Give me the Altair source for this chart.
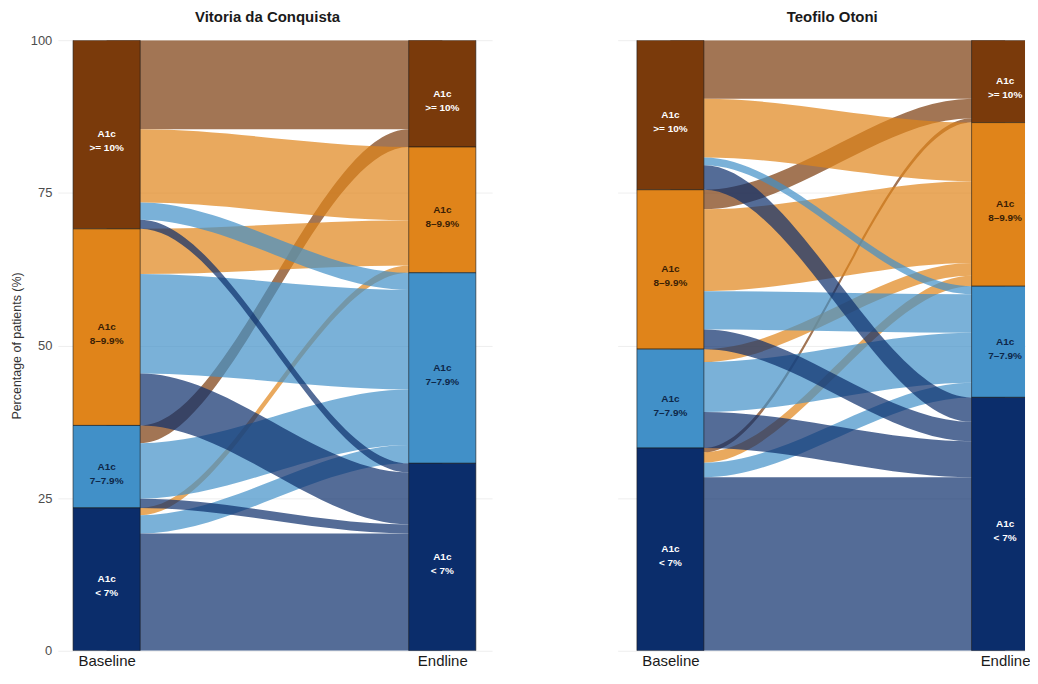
import altair as alt
import pandas as pd

# ---------------- data ----------------
# strata, listed from top of the stack to bottom
strata_keys = ["ge10", "8to9.9", "7to7.9", "lt7"]
strata_labels = ["A1c\n>= 10%", "A1c\n8–9.9%", "A1c\n7–7.9%", "A1c\n< 7%"]
axis_names = ["Baseline", "Endline"]
panel_titles = ["Vitoria da Conquista", "Teofilo Otoni"]

# Vitoria da Conquista: flows baseline stratum -> endline stratum (% of patients)
vdc_from = ["ge10", "ge10", "ge10", "ge10",
            "8to9.9", "8to9.9", "8to9.9",
            "7to7.9", "7to7.9", "7to7.9",
            "lt7", "lt7", "lt7"]
vdc_to = ["ge10", "8to9.9", "7to7.9", "lt7",
          "8to9.9", "7to7.9", "lt7",
          "ge10", "7to7.9", "lt7",
          "8to9.9", "7to7.9", "lt7"]
vdc_pct = [14.6, 12.0, 2.8, 1.5,
           7.4, 16.3, 8.5,
           2.9, 9.1, 1.5,
           1.2, 3.0, 19.2]

# Teofilo Otoni
to_from = ["ge10", "ge10", "ge10", "ge10",
           "8to9.9", "8to9.9", "8to9.9", "8to9.9",
           "7to7.9", "7to7.9", "7to7.9",
           "lt7", "lt7", "lt7", "lt7"]
to_to = ["ge10", "8to9.9", "7to7.9", "lt7",
         "ge10", "8to9.9", "7to7.9", "lt7",
         "8to9.9", "7to7.9", "lt7",
         "ge10", "8to9.9", "7to7.9", "lt7"]
to_pct = [9.6, 9.6, 1.3, 4.0,
          3.2, 13.4, 6.3, 3.2,
          2.1, 8.2, 5.9,
          0.7, 1.7, 2.4, 28.4]

# ---------------- styles ----------------
bar_colors = ["#7A3A0B", "#E0841A", "#4190C8", "#0B2D6B"]
text_colors = ["#FFFFFF", "#3A1E05", "#0E2748", "#FFFFFF"]
FONT = "Liberation Sans"
HALF = 0.1  # half width of stratum bars, in axis units


def build(frm, to, pct):
    rank = {k: i for i, k in enumerate(strata_keys)}
    df = pd.DataFrame({"from": frm, "to": to, "pct": pct})
    b = df.sort_values(["from", "to"], key=lambda s: s.map(rank))
    df.loc[b.index, "b_top"] = 100 - b["pct"].cumsum().shift(fill_value=0)
    df["b_bot"] = df["b_top"] - df["pct"]
    e = df.sort_values(["to", "from"], key=lambda s: s.map(rank))
    df.loc[e.index, "e_top"] = 100 - e["pct"].cumsum().shift(fill_value=0)
    df["e_bot"] = df["e_top"] - df["pct"]

    # drawing order: flows into the top stratum first, into the bottom stratum last
    rows = []
    for n, idx in enumerate(e.index):
        r = df.loc[idx]
        fid = f"f{n:02d}"
        for xv, t, bt in [(1, r.b_top, r.b_bot), (1 + HALF, r.b_top, r.b_bot),
                          (2 - HALF, r.e_top, r.e_bot), (2, r.e_top, r.e_bot)]:
            rows.append({"flow": fid, "to": r.to, "x": xv, "top": t, "bot": bt})
    flows = pd.DataFrame(rows)

    bars = []
    for pos, col in [(1, "from"), (2, "to")]:
        tot = df.groupby(col)["pct"].sum()
        top = 100.0
        for k, lab in zip(strata_keys, strata_labels):
            v = float(tot.get(k, 0.0))
            bars.append({"key": k, "label": lab, "x": pos, "x0": pos - HALF,
                         "x1": pos + HALF, "top": top, "bot": top - v,
                         "mid": top - v / 2})
            top -= v
    return flows, pd.DataFrame(bars)


def panel(frm, to, pct, title, domain, width, left, title_dx, title_offset):
    flows, bars = build(frm, to, pct)
    xs = alt.Scale(domain=domain, nice=False, zero=False)
    ys = alt.Scale(domain=[0, 100], nice=False)
    xaxis = alt.Axis(values=[1, 2],
                     labelExpr=f"datum.value == 1 ? '{axis_names[0]}' : '{axis_names[1]}'",
                     labelFontSize=15, labelColor="#1A1A1A", labelPadding=3,
                     labelFont=FONT, ticks=False, domain=False, grid=False,
                     title=None, labelFlush=False, labelOverlap=False)
    if left:
        yaxis = alt.Axis(values=[0, 25, 50, 75, 100], title="Percentage of patients (%)",
                         titleFontSize=12.5, titleFontWeight="normal", titleColor="#333333",
                         titleFont=FONT, titlePadding=6, labelFontSize=13,
                         labelColor="#4D4D4D", labelFont=FONT, labelPadding=6,
                         ticks=False, domain=False, grid=True, gridColor="#EBEBEB",
                         gridWidth=0.8, minExtent=28, maxExtent=28)
    else:
        yaxis = alt.Axis(values=[0, 25, 50, 75, 100], labels=False, ticks=False,
                         domain=False, title=None, grid=True, gridColor="#EBEBEB",
                         gridWidth=0.8, minExtent=0, maxExtent=0)
    cscale = alt.Scale(domain=strata_keys, range=bar_colors)
    tscale = alt.Scale(domain=strata_keys, range=text_colors)

    flow_layer = alt.Chart(flows).mark_area(
        interpolate="monotone", opacity=0.7, orient="vertical", clip=True
    ).encode(
        x=alt.X("x:Q", scale=xs, axis=xaxis),
        y=alt.Y("top:Q", scale=ys, axis=yaxis, stack=None),
        y2="bot:Q",
        color=alt.Color("to:N", scale=cscale, legend=None),
        detail="flow:N",
    )
    bar_layer = alt.Chart(bars).mark_rect(
        stroke="#1A1A1A", strokeWidth=0.6, clip=True
    ).encode(
        x=alt.X("x0:Q", scale=xs, axis=xaxis),
        x2="x1:Q",
        y=alt.Y("top:Q", scale=ys, axis=yaxis),
        y2="bot:Q",
        color=alt.Color("key:N", scale=cscale, legend=None),
    )
    text_layer = alt.Chart(bars).mark_text(
        font=FONT, fontSize=10, fontWeight="bold", lineBreak="\n",
        lineHeight=14, align="center", baseline="middle", clip=True
    ).encode(
        x=alt.X("x:Q", scale=xs, axis=xaxis),
        y=alt.Y("mid:Q", scale=ys, axis=yaxis),
        text="label:N",
        color=alt.Color("key:N", scale=tscale, legend=None),
    )
    return alt.layer(flow_layer, bar_layer, text_layer).resolve_scale(
        color="independent"
    ).properties(
        width=width, height=613,
        title=alt.TitleParams(title, font=FONT, fontSize=15, fontWeight="bold",
                              color="#1A1A1A", offset=title_offset, anchor="middle",
                              frame="group", dx=title_dx),
    )


left_panel = panel(vdc_from, vdc_to, vdc_pct, panel_titles[0],
                   [0.8546, 2.1484], 436, True, -7.5, 9)
right_panel = panel(to_from, to_to, to_pct, panel_titles[1],
                    [0.8423, 2.0596], 409, False, 11, 15.5)

chart = alt.hconcat(left_panel, right_panel, spacing=126).properties(
    padding={"left": 3, "top": 0, "right": 0, "bottom": 0}
).configure(font=FONT).configure_view(stroke=None)

chart.save("out.html", embed_options={"renderer": "svg", "actions": False})
